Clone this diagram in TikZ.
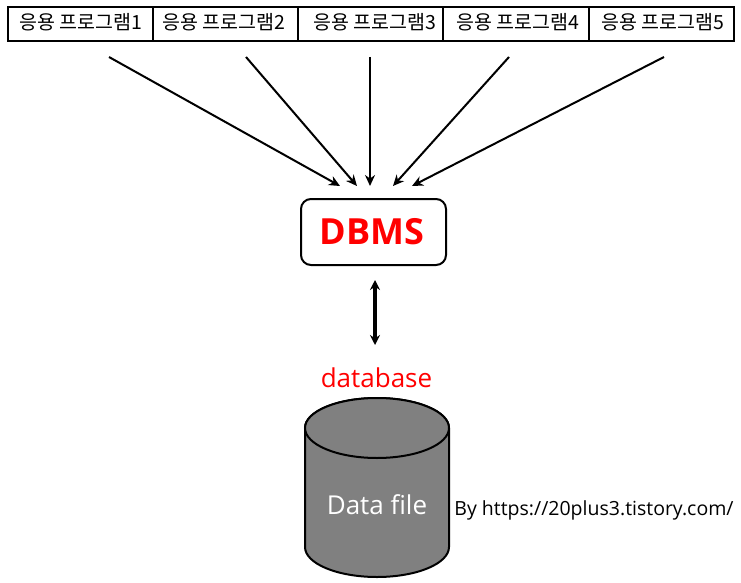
\documentclass[tikz,border=0pt]{standalone}
\usepackage{fontspec}
\setmainfont{Open Sans}
\newfontfamily\krfont{Noto Sans CJK KR}
\usetikzlibrary{arrows.meta,positioning,calc}
\tikzset{
  appbox/.style={font=\krfont\fontsize{19.5}{21}\selectfont},
  flow/.style={-{Stealth[length=11pt,width=10pt]}, line width=2pt},
  dbarrow/.style={{Stealth[length=10pt,width=10pt]}-{Stealth[length=10pt,width=10pt]}, line width=3.2pt}
}
\begin{document}
\begin{tikzpicture}[x=1pt,y=-1pt]
  \useasboundingbox (0,0) rectangle (741,583);

  % 응용 프로그램
  \draw[line width=2pt] (8,7) rectangle (734,41);
  \foreach \x in {153,298,443,589} {
    \draw[line width=2pt] (\x,7) -- (\x,41);
  }
  \foreach \i/\x in {1/81,2/223.5,3/374.5,4/517.5,5/662.5} {
    \node[appbox] (app\i) at (\x,22) {응용 프로그램\i};
  }

  % DBMS
  \node[draw, line width=2pt, rounded corners=10pt, minimum width=145pt, minimum height=66pt,
        text=red, font=\fontsize{36}{40}\selectfont\bfseries] (dbms) at (373.5,232) {\kern-3pt DBMS};

  % 화살표
  \foreach \i/\sx/\ex in {1/109/340,2/246/357,3/370/370,4/509/393,5/664/412} {
    \coordinate (from\i) at (\sx,57);
    \coordinate (to\i) at (\ex,186);
    \draw[flow] (from\i) -- (to\i);
  }
  \coordinate (dbup) at (375,280);
  \coordinate (dbdown) at (375,345);
  \draw[dbarrow] (dbup) -- (dbdown);

  % database
  \node[text=red, font=\fontsize{26}{30}\selectfont] (dblabel) at (376.5,377.5) {database};
  \draw[line width=2pt, fill=black!50] (305,428) -- (305,547) arc[start angle=180, end angle=360, x radius=72, y radius=-30]
    -- (449,428) arc[start angle=0, end angle=180, x radius=72, y radius=-30] -- cycle;
  \draw[line width=2pt, fill=black!50] (377,428) ellipse (72 and 30);
  \node[text=white, font=\fontsize{26}{30}\selectfont] (datafile) at (377,505) {Data file};

  \node[font=\fontsize{19.5}{24}\selectfont] (byline) at (594,510.5) {By https://20plus3.tistory.com/};
\end{tikzpicture}
\end{document}
